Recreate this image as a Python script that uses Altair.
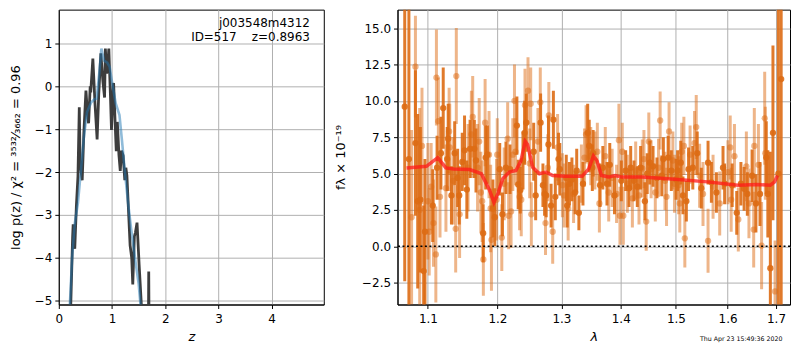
import altair as alt
import pandas as pd

FONT = "DejaVu Sans"

# ---------------- left panel: redshift PDF ----------------
z_chi = [0.22, 0.26, 0.27, 0.30, 0.33, 0.36, 0.385, 0.40, 0.44, 0.47,
         0.51, 0.545, 0.56, 0.59, 0.60, 0.64, 0.68, 0.72, 0.75, 0.79,
         0.83, 0.86, 0.875, 0.90, 0.92, 0.94, 0.97, 0.99, 1.01, 1.03,
         1.06, 1.08, 1.10, 1.13, 1.155, 1.18, 1.21, 1.24, 1.26, 1.28,
         1.31, 1.34, 1.37, 1.39, 1.42, 1.44, 1.47, 1.51, 1.55, 1.58,
         1.68, 1.69, 1.70]
logp_chi = [-5.3, -3.5, -3.22, -3.79, -2.8, -2.1, -0.49, -1.8, -2.19, -1.1,
            -0.10, -0.75, -0.86, 0.0, -0.14, 0.65, -0.4, -1.24, -0.2, 0.77,
            0.1, -0.26, 0.88, 0.3, 0.46, 0.88, -0.2, -1.02, -0.3, 0.08,
            -0.9, -1.51, -0.83, -1.6, -1.97, -1.5, -1.62, -2.19, -1.9, -2.08,
            -2.9, -3.71, -4.0, -4.62, -3.5, -3.41, -3.18, -4.17, -5.07, -6.5,
            -6.5, -4.32, -6.5]
z_fit = [0.20, 0.25, 0.30, 0.36, 0.42, 0.47, 0.53, 0.61, 0.67, 0.71,
         0.76, 0.80, 0.85, 0.91, 0.955, 1.0, 1.07, 1.14, 1.19, 1.24,
         1.30, 1.36, 1.40, 1.45, 1.50, 1.55]
logp_fit = [-5.3, -4.0, -3.2, -2.72, -1.9, -1.2, -0.6, -0.37, -0.3, -0.29,
            0.3, 0.88, 0.6, 0.55, 0.46, 0.1, -0.4, -0.67, -1.3, -1.97,
            -2.7, -3.33, -3.7, -4.17, -4.6, -5.3]
label_field = "j003548m4312"
label_id = "ID=517\u00a0\u00a0\u00a0\u00a0z=0.8963"
z_ticks = [0, 1, 2, 3, 4]
logp_ticks = [-5, -4, -3, -2, -1, 0, 1]

# ---------------- right panel: spectrum (lambda, flux, error) ----------------
spec_dark = [
    (1.0686, 9.6, 12), (1.0742, 6.0, 14), (1.0830, 7.1, 5), (1.0861, 3.1, 6),
    (1.0897, 3.2, 5), (1.0942, -1.7, 4.5), (1.0960, 1.0, 5), (1.1067, 2.8, 2.5),
    (1.1127, 5.4, 2.2), (1.1181, 6.4, 2.5), (1.1213, 9.5, 2.8), (1.1269, 6.0, 2.2),
    (1.1283, 7.4, 2.4), (1.1329, 3.5, 2.0), (1.1375, 6.4, 2.2), (1.1417, 4.7, 2.0),
    (1.1440, 3.5, 2.0), (1.1483, 5.8, 2.0), (1.1516, 6.6, 2.4), (1.1549, 3.9, 2.0),
    (1.1596, 6.7, 2.0), (1.1658, 6.7, 2.0), (1.1682, 5.9, 2.2), (1.1787, 0.9, 2.0),
    (1.1825, 6.1, 2.2), (1.1850, 6.3, 2.0), (1.1932, 2.6, 2.0), (1.1960, 2.0, 2.0),
    (1.2034, 5.3, 1.8), (1.2075, 2.2, 1.5), (1.2128, 5.4, 1.8), (1.2190, 5.3, 1.7),
    (1.2295, 8.3, 2.0), (1.2315, 4.25, 1.7), (1.2347, 3.85, 1.6), (1.2389, 5.9, 2.0),
    (1.2415, 7.8, 2.2), (1.2441, 8.5, 2.0), (1.2556, 6.5, 2.0), (1.2587, 3.5, 1.7),
    (1.2665, 8.5, 2.0), (1.2702, 4.2, 1.5), (1.2728, 3.6, 1.5), (1.2754, 3.5, 1.5),
    (1.2790, 7.0, 2.0), (1.2832, 2.8, 1.5), (1.2869, 8.7, 2.0), (1.2900, 3.4, 1.6),
    (1.2952, 6.0, 1.8), (1.2973, 5.3, 1.8), (1.3078, 4.7, 1.6), (1.3093, 2.8, 1.5),
    (1.3130, 4.3, 1.5), (1.3171, 4.6, 1.5), (1.3224, 3.7, 1.5), (1.3250, 5.2, 1.5),
    (1.3286, 2.3, 1.2), (1.3354, 4.3, 1.5), (1.3433, 7.8, 2.0), (1.3459, 6.9, 1.8),
    (1.3511, 5.4, 1.6), (1.3525, 6.4, 1.6), (1.3643, 4.2, 1.5), (1.3690, 5.4, 1.5),
    (1.3761, 4.3, 1.5), (1.3809, 5.6, 1.5), (1.3891, 3.5, 1.3), (1.4010, 4.5, 1.4),
    (1.4086, 5.2, 1.4), (1.4146, 4.0, 1.3), (1.4175, 5.4, 1.5), (1.4234, 4.5, 1.4),
    (1.4293, 4.1, 1.4), (1.4352, 5.4, 1.5), (1.4429, 3.1, 1.3), (1.4471, 5.0, 1.4),
    (1.4518, 5.75, 1.5), (1.4577, 5.5, 1.4), (1.4648, 4.7, 1.4), (1.4737, 4.85, 1.4),
    (1.4766, 6.0, 1.5), (1.4855, 6.1, 1.5), (1.4914, 5.2, 1.4), (1.5003, 4.6, 1.4),
    (1.5032, 5.2, 1.4), (1.5091, 5.75, 1.5), (1.5133, 3.5, 1.3), (1.5197, 3.1, 1.4),
    (1.5239, 5.3, 1.5), (1.5320, 5.4, 1.5), (1.5405, 6.4, 1.5), (1.5484, 4.0, 1.4),
    (1.5615, 5.75, 1.5), (1.5680, 4.4, 1.4), (1.5779, 3.7, 1.4), (1.5910, 5.4, 1.5),
    (1.5942, 4.3, 1.4), (1.6093, 4.2, 1.5), (1.6185, 2.3, 1.5), (1.6270, 4.3, 1.5),
    (1.6335, 3.95, 1.5), (1.6401, 3.6, 1.5), (1.6499, 4.85, 1.8), (1.6578, 2.95, 2.0),
    (1.6663, 3.6, 2.2), (1.6794, 6.1, 2.5), (1.6827, 3.6, 3.0), (1.6880, -1.5, 8),
    (1.6935, 7.8, 6), (1.7050, 5.0, 20), (1.7110, 11.5, 20),
]
spec_light = [
    (1.0778, 2.0, 6), (1.0830, 12.35, 3.5), (1.0888, 2.5, 7), (1.0919, 6.9, 4),
    (1.1000, 3.1, 4), (1.1018, 1.0, 3), (1.1045, 4.1, 3), (1.1077, 1.6, 3),
    (1.1110, -0.56, 3.3), (1.1118, 11.6, 3.3), (1.1145, 8.6, 3), (1.1168, 3.4, 2.8),
    (1.1251, 4.0, 3), (1.1296, 7.9, 3), (1.1305, 6.8, 3), (1.1352, 4.5, 3),
    (1.1389, 1.2, 3), (1.1398, 11.7, 3.3), (1.1445, 2.2, 3), (1.1567, 5.4, 3),
    (1.1615, 7.7, 3), (1.1634, 8.9, 2.8), (1.1705, 5.4, 3), (1.1729, 7.2, 3),
    (1.1753, 3.7, 2.8), (1.1772, 3.1, 2.8), (1.1790, -0.9, 2.5), (1.1816, 8.5, 3),
    (1.1874, 6.3, 3), (1.1898, 2.6, 3), (1.1910, 0.45, 3.5), (1.1987, 3.2, 2.8),
    (1.1997, 6.3, 2.5), (1.2065, 0.6, 2.3), (1.2101, 4.3, 2.5), (1.2154, 7.4, 2.5),
    (1.2169, 2.1, 2.3), (1.2206, 2.4, 2.5), (1.2232, 6.3, 2.5), (1.2258, 10.0, 2.5),
    (1.2274, 6.5, 2.3), (1.2336, 3.4, 2.3), (1.2362, 3.2, 2.5), (1.2420, 9.7, 2.5),
    (1.2467, 10.7, 2.3), (1.2493, 5.7, 2.4), (1.2509, 9.8, 2.5), (1.2519, 2.2, 2.2),
    (1.2623, 7.2, 2.3), (1.2660, 9.9, 2.4), (1.2743, 1.6, 2.2), (1.2780, 5.4, 2.3),
    (1.2796, 9.0, 2.3), (1.2858, 1.0, 2.2), (1.2937, 6.8, 2.3), (1.3015, 4.2, 2.2),
    (1.3041, 3.5, 2.2), (1.3109, 2.6, 2.2), (1.3198, 3.6, 2.0), (1.3328, 5.0, 2.0),
    (1.3380, 6.1, 2.0), (1.3406, 7.7, 2.0), (1.3485, 6.2, 2.0), (1.3555, 5.9, 2.0),
    (1.3596, 6.5, 2.0), (1.3631, 2.95, 2.0), (1.3732, 6.2, 2.0), (1.3791, 3.7, 2.0),
    (1.3850, 4.7, 2.0), (1.3927, 3.6, 2.0), (1.3968, 7.3, 2.5), (1.3986, 2.1, 2.0),
    (1.4027, 6.5, 2.0), (1.4045, 2.1, 2.0), (1.4116, 4.3, 2.0), (1.4205, 3.3, 2.0),
    (1.4264, 5.2, 2.0), (1.4323, 3.5, 2.0), (1.4382, 5.35, 2.0), (1.4412, 6.0, 2.0),
    (1.4453, 1.7, 2.0), (1.4500, 7.2, 2.0), (1.4542, 5.3, 2.0), (1.4618, 3.7, 2.0),
    (1.4677, 5.4, 2.0), (1.4707, 8.65, 2.0), (1.4796, 4.5, 2.0), (1.4825, 3.4, 2.0),
    (1.4872, 7.9, 2.0), (1.4943, 5.9, 2.0), (1.4973, 4.3, 2.0), (1.5050, 4.2, 2.0),
    (1.5073, 2.95, 2.0), (1.5109, 6.5, 2.0), (1.5150, 6.9, 2.0), (1.5168, 0.55, 2.0),
    (1.5268, 6.3, 2.0), (1.5353, 7.1, 2.2), (1.5386, 8.2, 2.2), (1.5451, 4.85, 2.2),
    (1.5517, 3.6, 2.2), (1.5615, 0.38, 2.2), (1.5713, 4.1, 2.2), (1.5844, 2.95, 2.2),
    (1.6008, 5.1, 2.2), (1.6054, 6.8, 2.2), (1.6073, 3.2, 2.2), (1.6139, 6.2, 2.2),
    (1.6217, 1.85, 2.2), (1.6381, 5.5, 2.4), (1.6434, 2.95, 2.4), (1.6532, 1.15, 2.6),
    (1.6545, 6.9, 2.6), (1.6630, 5.6, 2.8), (1.6696, 0.05, 3.0), (1.6761, 8.8, 3.2),
    (1.6774, 6.4, 3.2), (1.6980, -3.1, 3.5),
]
lam_model = [1.071, 1.098, 1.1136, 1.125, 1.136, 1.159, 1.176, 1.188, 1.1947, 1.2008,
             1.208, 1.218, 1.228, 1.2357, 1.2423, 1.246, 1.254, 1.2646, 1.275, 1.286,
             1.307, 1.334, 1.345, 1.353, 1.359, 1.3666, 1.379, 1.390, 1.402, 1.438,
             1.498, 1.561, 1.621, 1.660, 1.688, 1.697, 1.703]
f_model = [5.39, 5.50, 6.10, 5.39, 5.32, 5.28, 4.99, 3.87, 3.02, 3.64,
           4.65, 5.10, 5.21, 5.88, 7.22, 7.0, 5.43, 4.99, 5.10, 4.87,
           4.81, 4.81, 5.32, 6.21, 5.88, 4.87, 4.76, 4.87, 4.76, 4.76,
           4.61, 4.43, 4.20, 4.25, 4.20, 4.43, 4.87]
lam_ticks = [1.1, 1.2, 1.3, 1.4, 1.5, 1.6, 1.7]
flux_ticks = [-2.5, 0.0, 2.5, 5.0, 7.5, 10.0, 12.5, 15.0]
timestamp = "Thu Apr 23 15:49:36 2020"

# ---------------- build ----------------
WL, WR, H = 266, 394, 296
ORANGE = "#dd6b14"

df_chi = pd.DataFrame({"z": z_chi, "logp": logp_chi, "i": range(len(z_chi))})
df_fit = pd.DataFrame({"z": z_fit, "logp": logp_fit, "i": range(len(z_fit))})

xl = alt.Scale(domain=[0, 4.98], nice=False, zero=False)
yl = alt.Scale(domain=[-5.09, 1.79], nice=False, zero=False)
ax_xl = alt.Axis(values=z_ticks, format="d", title="z", titleFontStyle="italic",
                 labelPadding=5, titlePadding=6)
ax_yl = alt.Axis(values=logp_ticks, format="d",
                 title="log p(z) / χ² = ³⁵³²⁄₃₆₆₂ = 0.96", titlePadding=12)

x_l = alt.X("z:Q", scale=xl, axis=ax_xl)
y_l = alt.Y("logp:Q", scale=yl, axis=ax_yl)

chi_line = alt.Chart(df_chi).mark_line(color="#333333", strokeWidth=2.8, opacity=0.95,
                                       clip=True).encode(x=x_l, y=y_l, order="i:Q")
fit_line = alt.Chart(df_fit).mark_line(color="#1f77b4", strokeWidth=2.6, opacity=0.5,
                                       clip=True).encode(x=x_l, y=y_l, order="i:Q")
txt1 = alt.Chart(pd.DataFrame({"t": [label_field]})).mark_text(
    align="right", baseline="middle", font=FONT, fontSize=12, color="black"
).encode(x=alt.value(WL - 14), y=alt.value(13), text="t:N")
txt2 = alt.Chart(pd.DataFrame({"t": [label_id]})).mark_text(
    align="right", baseline="middle", font=FONT, fontSize=12, color="black"
).encode(x=alt.value(WL - 14), y=alt.value(27), text="t:N")

left = alt.layer(chi_line, fit_line, txt1, txt2).properties(width=WL, height=H)

df_d = pd.DataFrame(spec_dark, columns=["lam", "f", "e"])
df_l = pd.DataFrame(spec_light, columns=["lam", "f", "e"])
df_m = pd.DataFrame({"lam": lam_model, "f": f_model, "i": range(len(lam_model))})

xr = alt.Scale(type="log", domain=[1.059, 1.730], nice=False)
yr = alt.Scale(domain=[-4.0, 16.27], nice=False, zero=False)
ax_xr = alt.Axis(values=lam_ticks, format=".1f", title="λ", titleFontStyle="italic",
                 labelPadding=5, titlePadding=6)
ax_yr = alt.Axis(values=flux_ticks, format=".1f", title="fλ × 10⁻¹⁹", titlePadding=14)

x_r = alt.X("lam:Q", scale=xr, axis=ax_xr)


def bars(df, opacity):
    return alt.Chart(df).transform_calculate(
        lo="datum.f - datum.e", hi="datum.f + datum.e"
    ).mark_rule(color=ORANGE, strokeWidth=3, opacity=opacity, clip=True).encode(
        x=x_r, y=alt.Y("lo:Q", scale=yr, axis=ax_yr), y2="hi:Q")


def dots(df, opacity):
    return alt.Chart(df).mark_circle(color=ORANGE, size=40, opacity=opacity,
                                     clip=True).encode(
        x=x_r, y=alt.Y("f:Q", scale=yr, axis=ax_yr))


model = alt.Chart(df_m).mark_line(color="#ff1a1a", strokeWidth=3.5, opacity=0.75,
                                  clip=True).encode(
    x=x_r, y=alt.Y("f:Q", scale=yr, axis=ax_yr), order="i:Q")
zero = alt.Chart(pd.DataFrame({"f": [0.0]})).mark_rule(
    color="black", strokeWidth=1.6, strokeDash=[2, 2.5]).encode(
    y=alt.Y("f:Q", scale=yr, axis=ax_yr))
stamp = alt.Chart(pd.DataFrame({"t": [timestamp]})).mark_text(
    align="center", baseline="middle", font=FONT, fontSize=6.3, color="black"
).encode(x=alt.value(WR - 49), y=alt.value(H + 35), text="t:N")

right = alt.layer(bars(df_l, 0.5), dots(df_l, 0.5), bars(df_d, 0.9), dots(df_d, 0.9),
                  model, zero, stamp).properties(width=WR, height=H)

chart = alt.hconcat(left, right, spacing=9).properties(padding=0).configure_axis(
    grid=True, gridColor="#b0b0b0", gridWidth=1, gridOpacity=1,
    domainColor="black", domainWidth=1, tickColor="black", tickSize=4,
    labelFont=FONT, labelFontSize=12, labelColor="black", labelFlush=False,
    labelOverlap=False, labelPadding=3,
    titleFont=FONT, titleFontSize=13, titleFontWeight="normal", titleColor="black"
).configure_view(stroke="black", strokeWidth=1)

chart.save("out.html", embed_options={"renderer": "svg", "actions": False})
